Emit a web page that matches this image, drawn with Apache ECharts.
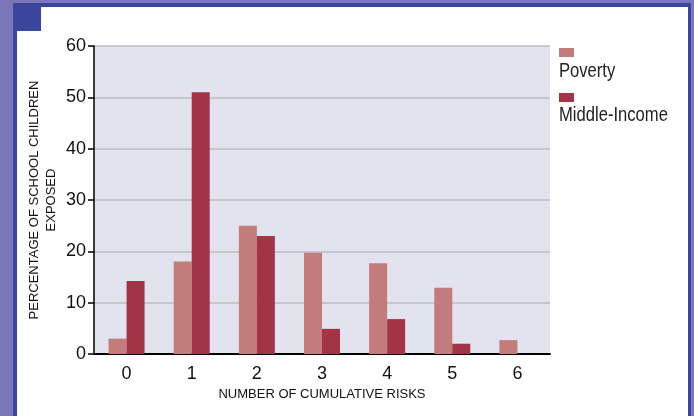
<!DOCTYPE html>
<html>
<head>
<meta charset="utf-8">
<script src="https://cdn.jsdelivr.net/npm/echarts@6/dist/echarts.min.js"></script>
<style>
html,body{margin:0;padding:0;background:#fff;}
#c{width:694px;height:416px;}
</style>
</head>
<body>
<div id="c"></div>
<script>
var categories = ['0', '1', '2', '3', '4', '5', '6'];
var povertyValues = [3, 18, 25, 19.7, 17.7, 12.9, 2.7];
var middleIncomeValues = [14.2, 51, 23, 4.9, 6.8, 2, 0];
var seriesNames = ['Poverty', 'Middle-Income'];
var yTicks = { min: 0, max: 60, interval: 10 };
var xTitle = 'NUMBER OF CUMULATIVE RISKS';
var yTitle = 'PERCENTAGE OF SCHOOL CHILDREN\nEXPOSED';

var LAV = '#7c77b9', BLUE = '#3a469d';
var FONT = '"Liberation Sans",Arial,Helvetica,sans-serif';
var chart = echarts.init(document.getElementById('c'), null, { renderer: 'canvas' });

var legendTexts = seriesNames.map(function (n, i) {
  return {
    type: 'text', x: 559, y: 71 + i * 44.5, scaleX: 0.83, silent: true,
    style: { text: n, x: 0, y: 0, fill: '#222', font: '20px ' + FONT, verticalAlign: 'middle', align: 'left' }
  };
});

chart.setOption({
  backgroundColor: '#ffffff',
  animation: false,
  grid: { left: 94, top: 46, width: 456, height: 308, show: true, backgroundColor: '#e3e2ef', borderWidth: 0 },
  legend: {
    orient: 'vertical', left: 559, top: 48, padding: 0,
    itemWidth: 15, itemHeight: 9, itemGap: 36,
    icon: 'rect', selectedMode: false,
    formatter: function () { return ''; },
    textStyle: { fontSize: 9 },
    data: seriesNames
  },
  xAxis: {
    type: 'category', data: categories,
    axisLine: { lineStyle: { color: '#000', width: 2 } },
    axisTick: { length: 6, lineStyle: { color: '#000', width: 1.5 } },
    axisLabel: { fontFamily: FONT, fontSize: 18, color: '#111', margin: 11 },
    name: xTitle, nameLocation: 'middle', nameGap: 31,
    nameTextStyle: { fontFamily: FONT, fontSize: 13, color: '#111' }
  },
  yAxis: {
    type: 'value', min: yTicks.min, max: yTicks.max, interval: yTicks.interval,
    axisLine: { show: true, lineStyle: { color: '#000', width: 1.5 } },
    axisTick: { show: true, length: 6, lineStyle: { color: '#000', width: 1.5 } },
    axisLabel: { fontFamily: FONT, fontSize: 18, color: '#111', margin: 8 },
    splitLine: { lineStyle: { color: '#bcbcc4', width: 1.5 } }
  },
  series: [
    { name: seriesNames[0], type: 'bar', data: povertyValues, barWidth: 18, barGap: '0%', itemStyle: { color: '#c27c7b' } },
    { name: seriesNames[1], type: 'bar', data: middleIncomeValues, barWidth: 18, barGap: '0%', itemStyle: { color: '#a23447' } }
  ],
  graphic: [
    { type: 'rect', shape: { x: 0, y: 0, width: 694, height: 3 }, style: { fill: LAV }, silent: true },
    { type: 'rect', shape: { x: 0, y: 0, width: 13, height: 416 }, style: { fill: LAV }, silent: true },
    { type: 'rect', shape: { x: 691, y: 0, width: 3, height: 416 }, style: { fill: LAV }, silent: true },
    { type: 'rect', shape: { x: 13, y: 3, width: 678, height: 4 }, style: { fill: BLUE }, silent: true },
    { type: 'rect', shape: { x: 13, y: 3, width: 4, height: 413 }, style: { fill: BLUE }, silent: true },
    { type: 'rect', shape: { x: 688, y: 3, width: 3, height: 413 }, style: { fill: BLUE }, silent: true },
    { type: 'rect', shape: { x: 13, y: 3, width: 28, height: 28 }, style: { fill: BLUE }, silent: true },
    {
      type: 'text', x: 42.5, y: 200, rotation: Math.PI / 2, silent: true,
      style: { text: yTitle, x: 0, y: 0, fill: '#111', font: '13px ' + FONT, align: 'center', verticalAlign: 'middle', lineHeight: 17 }
    }
  ].concat(legendTexts)
});
</script>
</body>
</html>
